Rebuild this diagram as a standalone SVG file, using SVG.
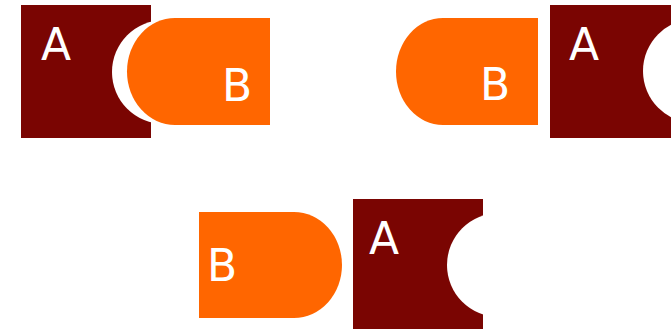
<svg xmlns="http://www.w3.org/2000/svg" width="671" height="329" viewBox="0 0 671 329">
<style>
.a{fill:#7a0502}
.b{fill:#ff6600}
.t{fill:#fff;font-family:"DejaVu Sans",sans-serif;font-size:44px}
</style>
<defs>
<mask id="m1" maskUnits="userSpaceOnUse" x="0" y="0" width="671" height="329"><rect x="0" y="0" width="671" height="329" fill="#fff"/><circle cx="164" cy="72" r="52" fill="#000"/></mask>
<mask id="m2" maskUnits="userSpaceOnUse" x="0" y="0" width="671" height="329"><rect x="0" y="0" width="671" height="329" fill="#fff"/><circle cx="695" cy="71" r="52" fill="#000"/></mask>
<mask id="m3" maskUnits="userSpaceOnUse" x="0" y="0" width="671" height="329"><rect x="0" y="0" width="671" height="329" fill="#fff"/><circle cx="499" cy="265" r="52" fill="#000"/></mask>
</defs>
<g id="nodeA1">
<rect class="a" x="21" y="5" width="130" height="133" mask="url(#m1)"/>
<text class="t" x="41" y="60">A</text>
</g>
<g id="nodeB1">
<ellipse class="b" cx="175" cy="71.5" rx="48" ry="53.5"/>
<rect class="b" x="175" y="18" width="95" height="107"/>
<text class="t" x="222" y="101">B</text>
</g>
<g id="nodeB2">
<ellipse class="b" cx="443" cy="71.5" rx="47" ry="53.5"/>
<rect class="b" x="443" y="18" width="95" height="107"/>
<text class="t" x="480" y="100">B</text>
</g>
<g id="nodeA2">
<rect class="a" x="550" y="5" width="130" height="133" mask="url(#m2)"/>
<text class="t" x="569" y="60">A</text>
</g>
<g id="nodeB3">
<ellipse class="b" cx="294" cy="265" rx="48" ry="53"/>
<rect class="b" x="199" y="212" width="95" height="106"/>
<text class="t" x="207" y="281">B</text>
</g>
<g id="nodeA3">
<rect class="a" x="353" y="199" width="130" height="133" mask="url(#m3)"/>
<text class="t" x="369" y="254">A</text>
</g>
<g id="connectors"/>
</svg>
